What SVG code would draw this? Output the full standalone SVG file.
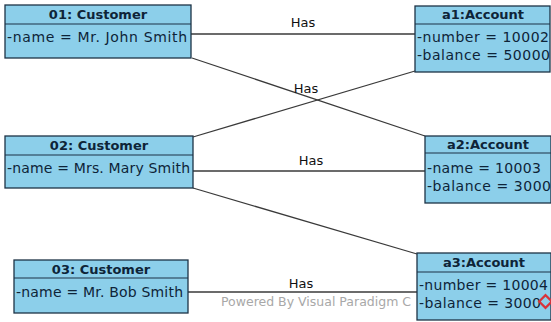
<svg xmlns="http://www.w3.org/2000/svg" width="551" height="322" viewBox="0 0 551 322">
  <style>
    .box { fill: #8ccfea; stroke: #1d3346; stroke-width: 1.3; }
    .div { stroke: #1d3346; stroke-width: 1.2; }
    .title { font-family: "DejaVu Sans", sans-serif; font-size: 13px; font-weight: bold; fill: #0e2438; text-anchor: middle; }
    .attr { font-family: "DejaVu Sans", sans-serif; font-size: 14px; fill: #0e2438; }
    .link { stroke: #3a3a3a; stroke-width: 1.3; fill: none; }
    .lbl { font-family: "DejaVu Sans", sans-serif; font-size: 13px; fill: #111; text-anchor: middle; }
    .wm { font-family: "DejaVu Sans", sans-serif; font-size: 12.5px; fill: #a8a8a8; }
  </style>
  <rect width="551" height="322" fill="#ffffff"/>

  <!-- associations -->
  <g id="connectors">
    <line class="link" x1="191" y1="34" x2="415" y2="34"/>
    <line class="link" x1="192" y1="58" x2="425" y2="136"/>
    <line class="link" x1="193" y1="137" x2="415" y2="71"/>
    <line class="link" x1="193" y1="171" x2="425" y2="171"/>
    <line class="link" x1="193" y1="188" x2="417" y2="254"/>
    <line class="link" x1="188" y1="292" x2="417" y2="292"/>
    <text class="lbl" x="303" y="27">Has</text>
    <text class="lbl" x="306" y="93">Has</text>
    <text class="lbl" x="311" y="165">Has</text>
    <text class="lbl" x="301" y="288">Has</text>
  </g>

  <!-- footer mark -->
  <text class="wm" x="221" y="306">Powered By Visual Paradigm C</text>

  <g id="customer01">
    <rect class="box" x="5" y="5" width="186" height="53"/>
    <line class="div" x1="5" y1="24" x2="191" y2="24"/>
    <text class="title" x="98" y="19">01: Customer</text>
    <text class="attr" x="7" y="42" textLength="180">-name = Mr.  John Smith</text>
  </g>

  <g id="customer02">
    <rect class="box" x="5" y="136" width="188" height="52"/>
    <line class="div" x1="5" y1="155" x2="193" y2="155"/>
    <text class="title" x="99" y="150">02: Customer</text>
    <text class="attr" x="7" y="173" textLength="183">-name = Mrs. Mary Smith</text>
  </g>

  <g id="customer03">
    <rect class="box" x="14" y="260" width="174" height="53"/>
    <line class="div" x1="14" y1="278" x2="188" y2="278"/>
    <text class="title" x="101" y="274">03: Customer</text>
    <text class="attr" x="16" y="297" textLength="167">-name = Mr. Bob Smith</text>
  </g>

  <g id="account_a1">
    <rect class="box" x="415" y="6" width="135" height="66"/>
    <line class="div" x1="415" y1="24" x2="550" y2="24"/>
    <text class="title" x="483" y="19">a1:Account</text>
    <text class="attr" x="417" y="42" textLength="132">-number = 10002</text>
    <text class="attr" x="417" y="60" textLength="133">-balance = 50000</text>
  </g>

  <g id="account_a2">
    <rect class="box" x="425" y="136" width="126" height="67"/>
    <line class="div" x1="425" y1="153" x2="551" y2="153"/>
    <text class="title" x="488" y="149">a2:Account</text>
    <text class="attr" x="427" y="173" textLength="114">-name = 10003</text>
    <text class="attr" x="427" y="191" textLength="124">-balance = 3000</text>
  </g>

  <g id="account_a3">
    <rect class="box" x="417" y="253" width="134" height="67"/>
    <line class="div" x1="417" y1="272" x2="551" y2="272"/>
    <text class="title" x="484" y="267">a3:Account</text>
    <text class="attr" x="419" y="290" textLength="129">-number = 10004</text>
    <text class="attr" x="419" y="308" textLength="122">-balance = 3000</text>
    <rect x="541" y="297" width="9" height="9" fill="none" stroke="#d8333a" stroke-width="2.2" transform="rotate(45 545.5 301.5)"/>
  </g>
</svg>
